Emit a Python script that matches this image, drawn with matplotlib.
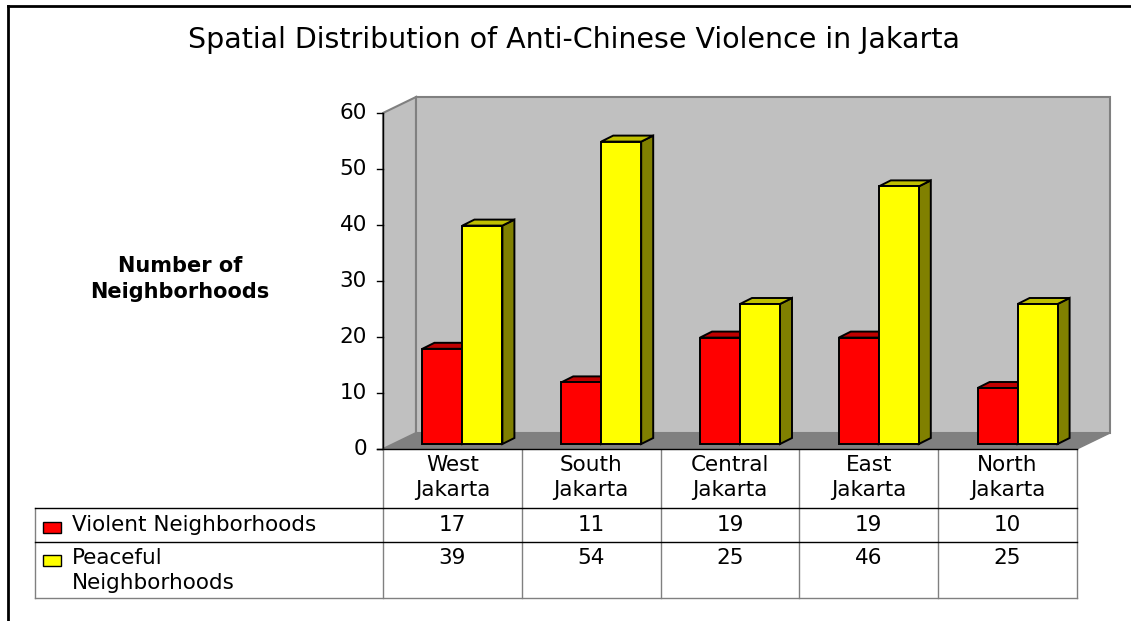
import numpy as np
import matplotlib
matplotlib.use("Agg")
import matplotlib.pyplot as plt
from matplotlib.patches import Polygon, Rectangle
from matplotlib.transforms import Affine2D

categories = ["West\nJakarta", "South\nJakarta", "Central\nJakarta", "East\nJakarta", "North\nJakarta"]
violent = [17, 11, 19, 19, 10]
peaceful = [39, 54, 25, 46, 25]
series_names = ["Violent Neighborhoods", "Peaceful\nNeighborhoods"]
yticks = [0, 10, 20, 30, 40, 50, 60]

W, H = 1131, 621
plt.rcParams['font.family'] = ['DejaVu Sans']

fig = plt.figure(figsize=(W / 100, H / 100), dpi=100)
fig.patch.set_facecolor("white")
ax = fig.add_axes([0, 0, 1, 1])
ax.set_axis_off()

# plot area: category units along x, values along y
x0_px, y0_px = 383, 449          # origin of front plane (pixels from top-left)
cat_px = 138.8                   # pixels per category
val_px = 5.6                     # pixels per value unit
ax.set_xlim(-x0_px / cat_px, (W - x0_px) / cat_px)
ax.set_ylim(-(H - y0_px) / val_px, y0_px / val_px)

# pixel transform for text and table (origin top-left)
pix = Affine2D().scale(1 / W, -1 / H).translate(0, 1) + fig.transFigure

def lines(x, y, s, step=25, **kw):
    # one text per line so the line gap matches the reference
    for k, part in enumerate(s.split("\n")):
        fig.text(x, y + k * step, part, transform=pix, va="center", **kw)

n = len(categories)
ymax = yticks[-1]
ddx, ddy = 33 / cat_px, 16 / val_px      # wall depth
fdx, fdy = 10 / cat_px, 5 / val_px       # bar front face offset
bdx, bdy = 12 / cat_px, 6 / val_px       # bar depth
bw = 40 / cat_px

wall = "#C0C0C0"
edge = "#808080"
# floor
ax.add_patch(Polygon([(0, 0), (n, 0), (n + ddx, ddy), (ddx, ddy)], closed=True,
                     facecolor="#808080", edgecolor=edge, lw=1))
# side wall
ax.add_patch(Polygon([(0, 0), (0, ymax), (ddx, ymax + ddy), (ddx, ddy)], closed=True,
                     facecolor=wall, edgecolor=edge, lw=1.5))
# back wall
ax.add_patch(Rectangle((ddx, ddy), n, ymax, facecolor=wall, edgecolor=edge, lw=1.5))

def bar3d(x, h, front, top, side):
    b = fdy
    ax.add_patch(Polygon([(x + bw, b), (x + bw + bdx, b + bdy), (x + bw + bdx, b + h + bdy), (x + bw, b + h)],
                         closed=True, facecolor=side, edgecolor="black", lw=1.4, joinstyle="miter"))
    ax.add_patch(Polygon([(x, b + h), (x + bw, b + h), (x + bw + bdx, b + h + bdy), (x + bdx, b + h + bdy)],
                         closed=True, facecolor=top, edgecolor="black", lw=1.4, joinstyle="miter"))
    ax.add_patch(Rectangle((x, b), bw, h, facecolor=front, edgecolor="black", lw=1.4, joinstyle="miter"))

for i in range(n):
    c = i + 0.5 + fdx
    bar3d(c - bw, violent[i], "#FF0000", "#C00000", "#800000")
    bar3d(c, peaceful[i], "#FFFF00", "#C0C000", "#808000")

# value axis
ax.plot([0, 0], [0, ymax], color="black", lw=1, solid_capstyle="butt")
tick_len = 6 / cat_px
for t in yticks:
    ax.plot([-tick_len, 0], [t, t], color="black", lw=1)
    ax.text(-16 / cat_px, t, str(t), ha="right", va="center", fontsize=15.5)

# title and axis title
fig.text(574, 40, "Spatial Distribution of Anti-Chinese Violence in Jakarta", transform=pix,
         ha="center", va="center", fontsize=20.5)
lines(180, 266, "Number of\nNeighborhoods", step=26, ha="center", fontsize=15, fontweight="bold")

# data table
cols = [383 + cat_px * k for k in range(n + 1)]
tl, tr = 35, cols[-1]
rows = [449, 508, 542, 598]
lc = "#808080"
for xc in cols:
    fig.add_artist(plt.Line2D([xc, xc], [rows[0], rows[-1]], transform=pix, color=lc, lw=1))
fig.add_artist(plt.Line2D([tl, tl], [rows[1], rows[-1]], transform=pix, color=lc, lw=1))
fig.add_artist(plt.Line2D([377, tr], [rows[0], rows[0]], transform=pix, color="black", lw=1))
fig.add_artist(plt.Line2D([tl, tr], [rows[1], rows[1]], transform=pix, color="black", lw=1))
fig.add_artist(plt.Line2D([tl, tr], [rows[2], rows[2]], transform=pix, color="black", lw=1))
fig.add_artist(plt.Line2D([tl, tr], [rows[3], rows[3]], transform=pix, color=lc, lw=1))

fs = 15.5
for i, name in enumerate(categories):
    cx = (cols[i] + cols[i + 1]) / 2
    lines(cx, 465, name, ha="center", fontsize=fs)
    lines(cx, 525, str(violent[i]), ha="center", fontsize=fs)
    lines(cx, 558, str(peaceful[i]), ha="center", fontsize=fs)

swatch = [("#FF0000", 525), ("#FFFF00", 558)]
for (col, sy), name in zip(swatch, series_names):
    fig.add_artist(Rectangle((43, sy - 3), 18, 11, transform=pix, facecolor=col,
                             edgecolor="black", lw=1))
    lines(72, sy, name, ha="left", fontsize=fs)

# chart border
fig.add_artist(plt.Line2D([8, 8], [6, H + 5], transform=pix, color="black", lw=2))
fig.add_artist(plt.Line2D([8, W + 5], [6, 6], transform=pix, color="black", lw=2))

fig.savefig("out.png", dpi=100)
